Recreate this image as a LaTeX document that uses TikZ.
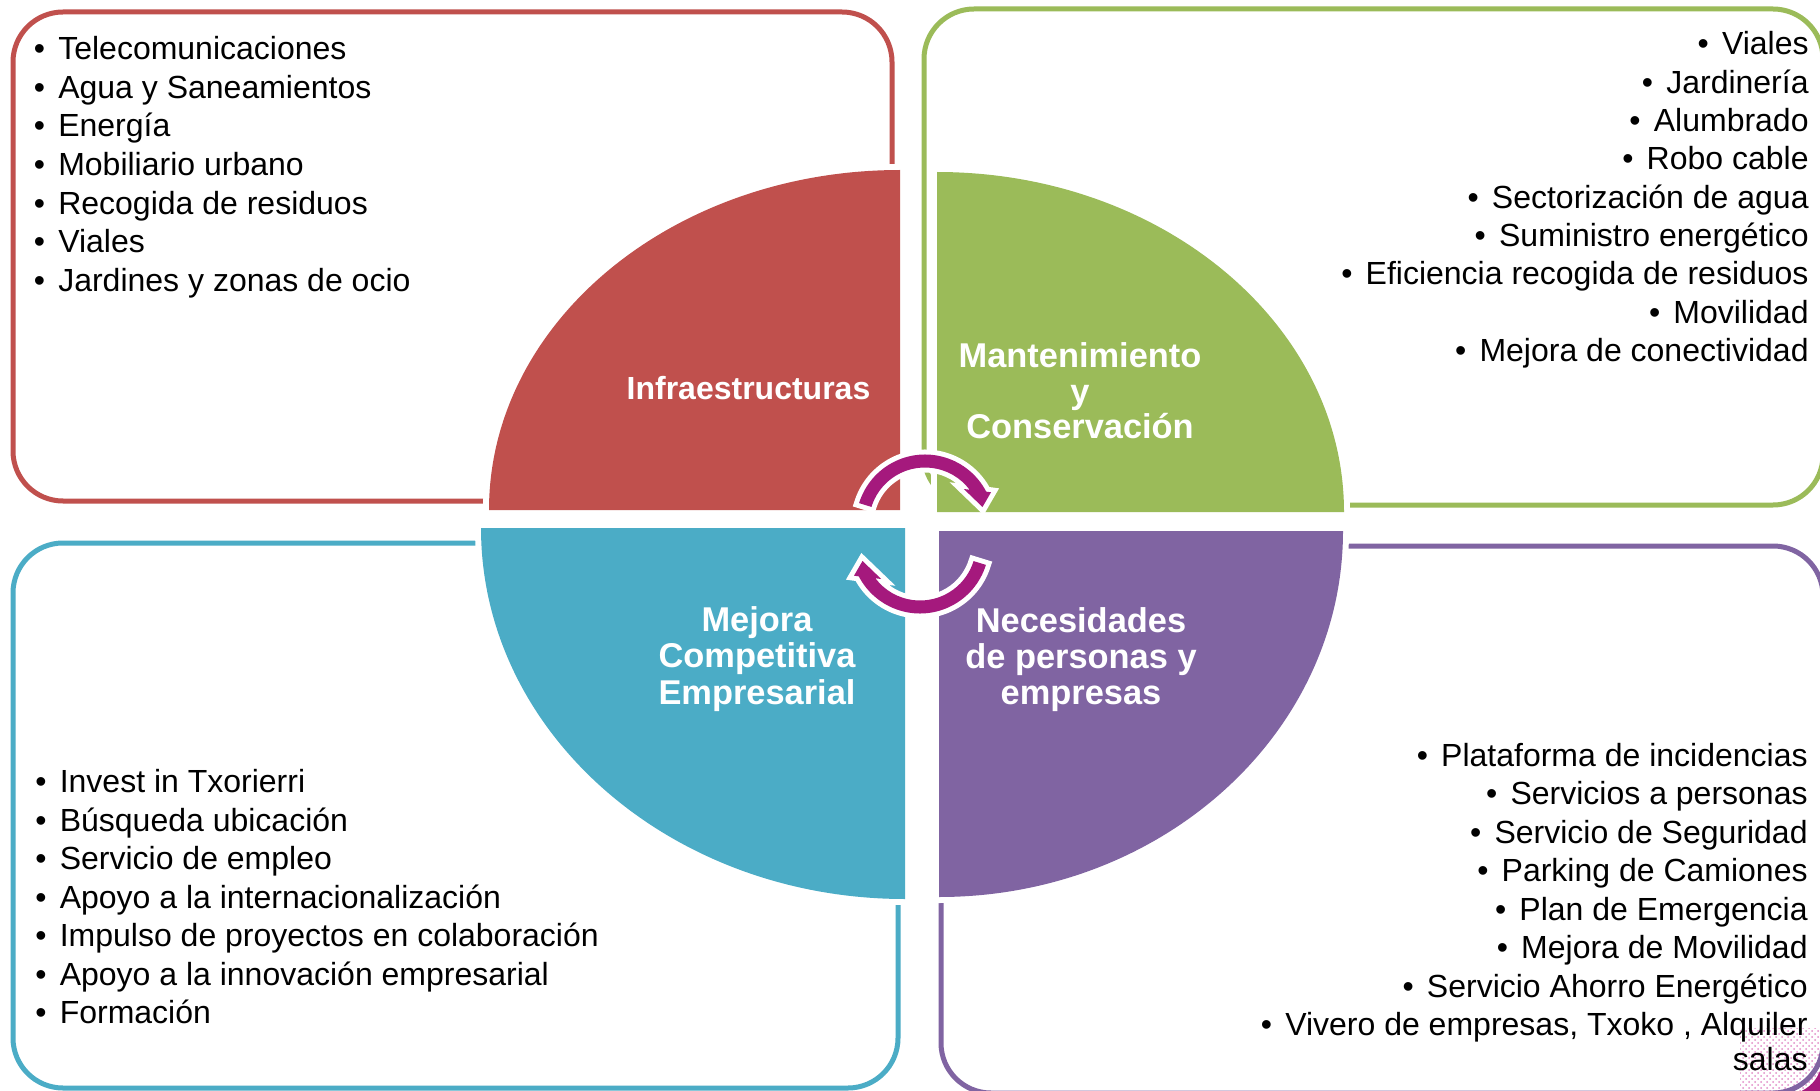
\documentclass[tikz,border=0pt]{standalone}
\usepackage{fontspec}
\setmainfont{Liberation Sans}
\usetikzlibrary{patterns}
\definecolor{cred}{RGB}{192,80,77}
\definecolor{cgreen}{RGB}{155,187,89}
\definecolor{cblue}{RGB}{75,172,198}
\definecolor{cpurple}{RGB}{128,100,162}
\definecolor{carrow}{RGB}{165,25,125}
\definecolor{cpink}{RGB}{225,140,200}
\newcommand\bul{\makebox[12.2pt][l]{•}}
\def\ArrowShape{(859.1,503.1) arc[start angle=197.2, end angle=332.5, radius=69] -- (991,492.3) -- (982.5,507) -- (963.8,489) -- (969.6,489.7) arc[start angle=322.9, end angle=197.2, radius=56] -- cycle}
\begin{document}
\begin{tikzpicture}[x=0.5pt,y=-0.5pt,
  boxline/.style={line width=2.5pt, rounded corners=25pt},
  quarter/.style={preaction={draw=white, line width=6pt}},
  circarrow/.style={preaction={draw=white, line width=5pt}, fill=carrow},
  litem/.style={font=\fontsize{16pt}{19pt}\selectfont, inner sep=0pt, text=black},
  lab/.style={font=\fontsize{17.2pt}{20pt}\selectfont\bfseries, inner sep=0pt, text=white, anchor=base}]
\clip (0,0) rectangle (1820,1091);
\fill[white] (0,0) rectangle (1820,1091);
% outline boxes
\draw[boxline, draw=cred] (13,12) rectangle (892,501);
\draw[boxline, draw=cgreen] (924,9) rectangle (1823,505);
\draw[boxline, draw=cblue] (13,543) rectangle (898,1088);
% pink dotted area and corner mark
\fill[pattern=crosshatch dots, pattern color=cpink] (1740,1028) rectangle (1820,1091);
\fill[carrow] (1797,1093) .. controls (1810,1088) and (1817,1080) .. (1821,1068) -- (1821,1093) -- cycle;
\draw[boxline, draw=cpurple] (941,546) rectangle (1823,1093);
% quarters
\path[quarter, fill=cred] (900,510) -- (489,510) arc[start angle=180, end angle=270, x radius=411, y radius=340] -- cycle;
\path[quarter, fill=cgreen] (937,512) -- (937,172) arc[start angle=270, end angle=360, x radius=407, y radius=340] -- cycle;
\path[quarter, fill=cblue] (905,528) -- (481,528) arc[start angle=180, end angle=90, x radius=424, y radius=371] -- cycle;
\path[quarter, fill=cpurple] (939,531) -- (1343,531) arc[start angle=0, end angle=90, x radius=404, y radius=366] -- cycle;
% circular arrows
\path[circarrow] \ArrowShape;
\path[circarrow, rotate around={180:(922.5,534)}] \ArrowShape;
% labels
\node[lab, font=\fontsize{16pt}{19pt}\selectfont\bfseries] (infra) at (748.5,399.5) {Infraestructuras};
\node[lab] (mant1) at (1080,367.5) {Mantenimiento};
\node[lab] (mant2) at (1080,403) {y};
\node[lab] (mant3) at (1080,438.5) {Conservación};
\node[lab] (mej1) at (757,631) {Mejora};
\node[lab] (mej2) at (757,667.5) {Competitiva};
\node[lab] (mej3) at (757,704) {Empresarial};
\node[lab] (nec1) at (1081,632) {Necesidades};
\node[lab] (nec2) at (1081,668) {de personas y};
\node[lab] (nec3) at (1081,704) {empresas};
% lists
\foreach \t [count=\i] in {Telecomunicaciones, Agua y Saneamientos, Energía, Mobiliario urbano, Recogida de residuos, Viales, Jardines y zonas de ocio}
  \node[litem, anchor=base west] (inf\i) at (33.5,{59.5+38.7*(\i-1)}) {\bul\t};
\foreach \t [count=\i] in {Viales, Jardinería, Alumbrado, Robo cable, Sectorización de agua, Suministro energético, Eficiencia recogida de residuos, Movilidad, Mejora de conectividad}
  \node[litem, anchor=base east] (man\i) at (1809,{55+38.3*(\i-1)}) {\bul\t};
\foreach \t [count=\i] in {Invest in Txorierri, Búsqueda ubicación, Servicio de empleo, Apoyo a la internacionalización, Impulso de proyectos en colaboración, Apoyo a la innovación empresarial, Formación}
  \node[litem, anchor=base west] (mc\i) at (35,{792.5+38.5*(\i-1)}) {\bul\t};
\foreach \t [count=\i] in {Plataforma de incidencias, Servicios a personas, Servicio de Seguridad, Parking de Camiones, Plan de Emergencia, Mejora de Movilidad, Servicio Ahorro Energético, {Vivero de empresas, Txoko , Alquiler}}
  \node[litem, anchor=base east] (np\i) at (1808,{766+38.5*(\i-1)}) {\bul\t};
\node[litem, anchor=base east] (np9) at (1808,1070) {salas};
\end{tikzpicture}
\end{document}
